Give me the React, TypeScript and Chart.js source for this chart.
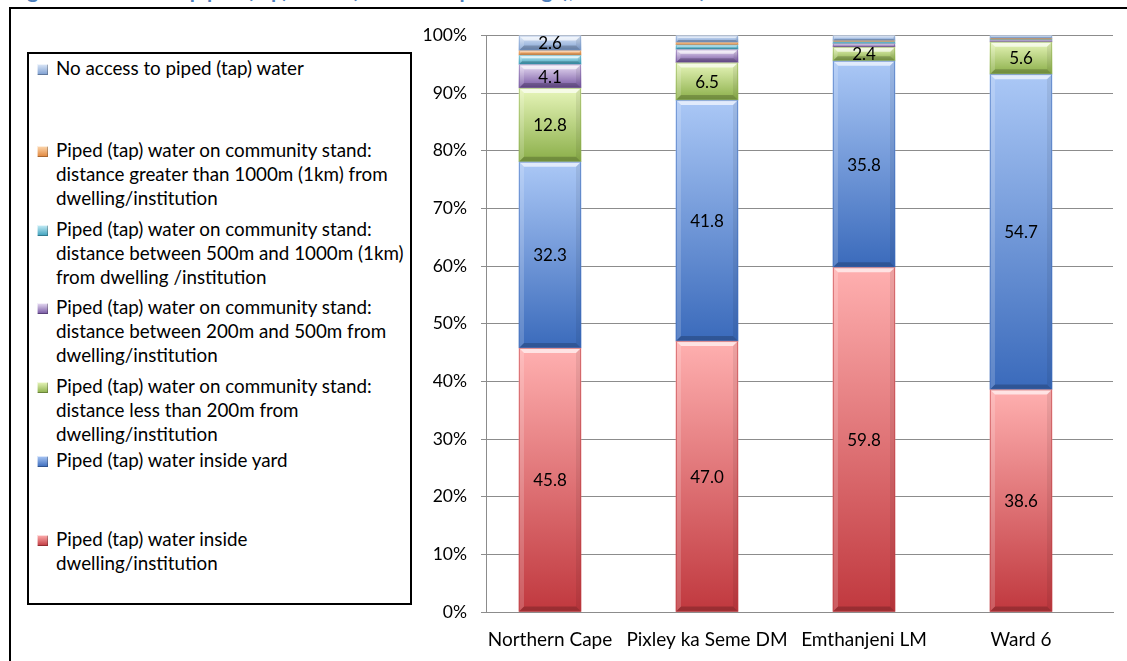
import React, { useEffect, useRef } from "react";
import { Chart, registerables } from "chart.js";

Chart.register(...registerables);

// ---------- data ----------
const categories = ["Northern Cape", "Pixley ka Seme DM", "Emthanjeni LM", "Ward 6"];

// stacked bottom -> top
const insideDwelling = [45.8, 47.0, 59.8, 38.6];
const insideYard = [32.3, 41.8, 35.8, 54.7];
const standLessThan200m = [12.8, 6.5, 2.4, 5.6];
const standBetween200And500m = [4.1, 2.3, 0.6, 0.3];
const standBetween500And1000m = [1.6, 0.8, 0.4, 0.2];
const standGreaterThan1000m = [0.8, 0.4, 0.1, 0.1];
const noAccess = [2.6, 1.2, 0.9, 0.5];

const seriesLabels: string[][] = [
  ["Piped (tap) water inside", "dwelling/institution"],
  ["Piped (tap) water inside yard"],
  ["Piped (tap) water on community stand:", "distance less than 200m from", "dwelling/institution"],
  ["Piped (tap) water on community stand:", "distance between 200m and 500m from", "dwelling/institution"],
  ["Piped (tap) water on community stand:", "distance between 500m and 1000m (1km)", "from dwelling /institution"],
  ["Piped (tap) water on community stand:", "distance greater than 1000m (1km) from", "dwelling/institution"],
  ["No access to piped (tap) water"],
];

const yTickValues = [0, 10, 20, 30, 40, 50, 60, 70, 80, 90, 100];
const titleText = "Figure 9: Access to piped (tap) water (household percentage), Census 2011)";

// ---------- styling ----------
const seriesValues = [
  insideDwelling,
  insideYard,
  standLessThan200m,
  standBetween200And500m,
  standBetween500And1000m,
  standGreaterThan1000m,
  noAccess,
];

const colorPairs: [string, string][] = [
  ["#ffb0b0", "#c0383e"],
  ["#abc8f6", "#3a6abb"],
  ["#e8f6bb", "#8aae48"],
  ["#eadff5", "#7353a0"],
  ["#c8eef8", "#3a9fbb"],
  ["#fdd8b0", "#e0853a"],
  ["#dde8f8", "#7b9dd0"],
];

const FONT = "Lato, 'Open Sans', sans-serif";
const LABEL_MIN = 2.4;

function gradientFor(dsIndex: number) {
  return (ctx: any) => {
    const [light, dark] = colorPairs[dsIndex];
    const chart = ctx.chart;
    const y = chart.scales && chart.scales.y;
    if (ctx.type !== "data" || !y) return dark;
    const i = ctx.dataIndex;
    let base = 0;
    for (let k = 0; k < dsIndex; k++) base += seriesValues[k][i];
    const top = base + seriesValues[dsIndex][i];
    const y0 = y.getPixelForValue(top);
    const y1 = y.getPixelForValue(base);
    if (!isFinite(y0) || !isFinite(y1) || Math.abs(y1 - y0) < 0.5) return dark;
    const g = chart.ctx.createLinearGradient(0, y0, 0, y1);
    g.addColorStop(0, light);
    g.addColorStop(1, dark);
    return g;
  };
}

const bevelPlugin = {
  id: "bevel",
  afterDatasetsDraw(chart: any) {
    const ctx = chart.ctx;
    ctx.save();
    chart.data.datasets.forEach((_: any, di: number) => {
      const meta = chart.getDatasetMeta(di);
      meta.data.forEach((el: any) => {
        const { x, y, base, width } = el.getProps(["x", "y", "base", "width"], true);
        const left = x - width / 2;
        const right = x + width / 2;
        const top = Math.min(y, base);
        const bottom = Math.max(y, base);
        const h = bottom - top;
        if (h <= 0) return;
        const b = Math.min(5, h / 3);
        const poly = (pts: number[][], fill: string) => {
          ctx.beginPath();
          ctx.moveTo(pts[0][0], pts[0][1]);
          for (let p = 1; p < pts.length; p++) ctx.lineTo(pts[p][0], pts[p][1]);
          ctx.closePath();
          ctx.fillStyle = fill;
          ctx.fill();
        };
        poly([[left, top], [right, top], [right - b, top + b], [left + b, top + b]], "rgba(255,255,255,0.65)");
        poly([[left, top], [left + b, top + b], [left + b, bottom - b], [left, bottom]], "rgba(255,255,255,0.18)");
        poly([[right, top], [right - b, top + b], [right - b, bottom - b], [right, bottom]], "rgba(0,0,0,0.07)");
        poly([[left, bottom], [right, bottom], [right - b, bottom - b], [left + b, bottom - b]], "rgba(0,0,0,0.2)");
        ctx.strokeStyle = colorPairs[di][1];
        ctx.globalAlpha = 0.5;
        ctx.lineWidth = 1;
        ctx.strokeRect(left + 0.5, top + 0.5, width - 1, Math.max(0, h - 1));
        ctx.globalAlpha = 1;
      });
    });
    // value labels
    ctx.fillStyle = "#000";
    ctx.font = `17px ${FONT}`;
    ctx.textAlign = "center";
    ctx.textBaseline = "middle";
    chart.data.datasets.forEach((_: any, di: number) => {
      const meta = chart.getDatasetMeta(di);
      meta.data.forEach((el: any, idx: number) => {
        const v = seriesValues[di][idx];
        if (v < LABEL_MIN) return;
        const { x, y, base } = el.getProps(["x", "y", "base"], true);
        ctx.fillText(v.toFixed(1), x, (y + base) / 2 + 1);
      });
    });
    ctx.restore();
  },
};

export default function App() {
  const canvasRef = useRef<HTMLCanvasElement | null>(null);

  useEffect(() => {
    if (!canvasRef.current) return;
    const chart = new Chart(canvasRef.current, {
      type: "bar",
      data: {
        datasets: seriesValues.map((vals, di) => ({
          label: seriesLabels[di].join(" "),
          data: vals.map((v, i) => ({ x: i, y: v })),
          backgroundColor: gradientFor(di),
          borderWidth: 0,
          barThickness: 62,
        })),
      },
      options: {
        responsive: false,
        animation: false,
        layout: { padding: { top: 0, right: 14, bottom: 0, left: 0 } },
        plugins: {
          legend: { display: false },
          tooltip: { enabled: false },
          title: { display: false },
        },
        scales: {
          x: {
            type: "linear",
            stacked: true,
            offset: false,
            min: -0.4076,
            max: 3.586,
            grid: { display: false, drawTicks: false, offset: false },
            border: { display: true, color: "#8c8c8c", width: 1 },
            afterBuildTicks: (scale: any) => {
              scale.ticks = categories.map((_, i) => ({ value: i }));
            },
            afterFit: (scale: any) => {
              scale.height = 49;
            },
            ticks: {
              autoSkip: false,
              maxRotation: 0,
              padding: 16,
              color: "#000",
              font: { family: FONT, size: 19 },
              callback: (v: any) => categories[v] ?? "",
            },
          },
          y: {
            stacked: true,
            min: 0,
            max: 100,
            afterBuildTicks: (scale: any) => {
              scale.ticks = yTickValues.map((v) => ({ value: v }));
            },
            afterFit: (scale: any) => {
              scale.width = 86;
            },
            grid: { color: "#8c8c8c", lineWidth: 1, tickLength: 5, drawTicks: true },
            border: { display: true, color: "#8c8c8c", width: 1 },
            ticks: {
              padding: 14,
              color: "#000",
              font: { family: FONT, size: 17.5 },
              callback: (v: any) => `${v}%`,
            },
          },
        },
      },
      plugins: [bevelPlugin],
    } as any);
    return () => chart.destroy();
  }, []);

  const legendOrder = seriesLabels.map((_, i) => seriesLabels.length - 1 - i);

  return (
    <div
      style={{
        position: "fixed",
        left: 0,
        top: 0,
        width: 1127,
        height: 661,
        overflow: "hidden",
        background: "#fff",
        fontFamily: FONT,
      }}
    >
      <div
        style={{
          position: "absolute",
          left: 10,
          top: -22,
          color: "#4f81bd",
          fontWeight: "bold",
          fontSize: 21,
          whiteSpace: "nowrap",
          lineHeight: "24px",
        }}
      >
        {titleText}
      </div>
      <div
        style={{
          position: "absolute",
          left: 9,
          top: 7,
          width: 1140,
          height: 700,
          border: "2px solid #000",
          boxSizing: "border-box",
        }}
      />
      <div
        style={{
          position: "absolute",
          left: 27,
          top: 52,
          width: 385,
          height: 553,
          border: "2px solid #000",
          boxSizing: "border-box",
          display: "flex",
          flexDirection: "column",
          background: "#fff",
        }}
      >
        {legendOrder.map((si, k) => (
          <div key={si} style={{ flex: 1, position: "relative" }}>
            <div
              style={{
                position: "absolute",
                left: 8,
                top: 10 + (k > 0 && k < 5 ? 4 : 0),
                width: 11,
                height: 11,
                background: `linear-gradient(${colorPairs[si][0]}, ${colorPairs[si][1]})`,
                boxShadow: "inset 1px 1px 0 rgba(255,255,255,0.6), inset -1px -1px 0 rgba(0,0,0,0.25)",
              }}
            />
            <div
              style={{
                position: "absolute",
                left: 27,
                top: 2 + (k > 0 && k < 5 ? 4 : 0),
                fontSize: 18.8,
                lineHeight: "24px",
                color: "#000",
                whiteSpace: "nowrap",
              }}
            >
              {seriesLabels[si].map((line, li) => (
                <div key={li}>{line}</div>
              ))}
            </div>
          </div>
        ))}
      </div>
      <canvas
        ref={canvasRef}
        width={727}
        height={650}
        style={{ position: "absolute", left: 400, top: 11, width: 727, height: 650 }}
      />
    </div>
  );
}
